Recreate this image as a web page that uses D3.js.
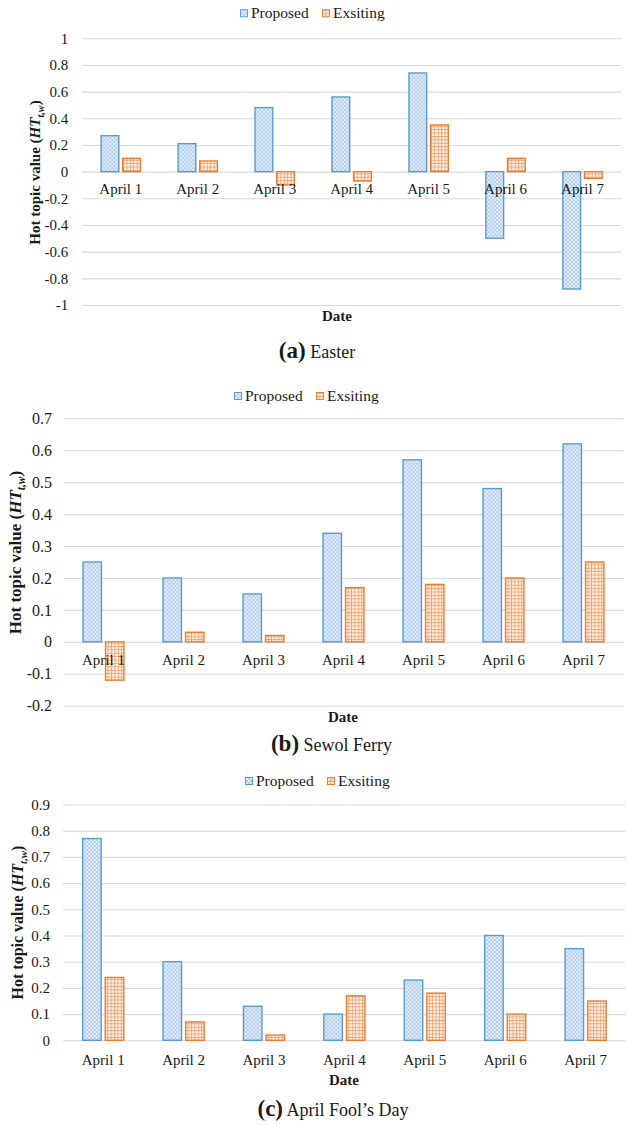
<!DOCTYPE html>
<html>
<head>
<meta charset="utf-8">
<script src="https://cdn.jsdelivr.net/npm/d3@7"></script>
<style>
  body { margin: 0; background: #fff; font-family: "Liberation Serif", "Times New Roman", serif; }
  svg { display: block; }
</style>
</head>
<body>
<svg id="fig" width="627" height="1126" font-family="Liberation Serif, Times New Roman, serif"></svg>
<script>
// ---- data ----
const dates = ["April 1", "April 2", "April 3", "April 4", "April 5", "April 6", "April 7"];
const seriesNames = ["Proposed", "Exsiting"];

const easterProposed = [0.27, 0.21, 0.48, 0.56, 0.74, -0.50, -0.88];
const easterExisting = [0.10, 0.08, -0.10, -0.07, 0.35, 0.10, -0.05];

const sewolProposed = [0.25, 0.20, 0.15, 0.34, 0.57, 0.48, 0.62];
const sewolExisting = [-0.12, 0.03, 0.02, 0.17, 0.18, 0.20, 0.25];

const foolsProposed = [0.77, 0.30, 0.13, 0.10, 0.23, 0.40, 0.35];
const foolsExisting = [0.24, 0.07, 0.02, 0.17, 0.18, 0.10, 0.15];

const easterTicks = [-1, -0.8, -0.6, -0.4, -0.2, 0, 0.2, 0.4, 0.6, 0.8, 1];
const sewolTicks = [-0.2, -0.1, 0, 0.1, 0.2, 0.3, 0.4, 0.5, 0.6, 0.7];
const foolsTicks = [0, 0.1, 0.2, 0.3, 0.4, 0.5, 0.6, 0.7, 0.8, 0.9];

const captions = [
  { letter: "(a)", name: "Easter" },
  { letter: "(b)", name: "Sewol Ferry" },
  { letter: "(c)", name: "April Fool\u2019s Day" }
];

// ---- layout of the three stacked panels ----
const panels = [
  { proposed: easterProposed, existing: easterExisting, ticks: easterTicks, caption: captions[0],
    left: 82.3, right: 621, top: 38.3, bottom: 305, tickPad: 14, tickFont: 15, labelOffset: 17.3,
    legendX: 240, legendY: 13.3, titleX: 35, titleY: 172.5, titleFont: 15,
    dateX: 337, dateY: 316, captionX: 317, captionY: 358 },
  { proposed: sewolProposed, existing: sewolExisting, ticks: sewolTicks, caption: captions[1],
    left: 63.5, right: 623.5, top: 418.3, bottom: 705.7, tickPad: 11.5, tickFont: 16, labelOffset: 17.7,
    legendX: 234, legendY: 396, titleX: 15, titleY: 552.5, titleFont: 17,
    dateX: 343, dateY: 716.7, captionX: 331.5, captionY: 751 },
  { proposed: foolsProposed, existing: foolsExisting, ticks: foolsTicks, caption: captions[2],
    left: 63, right: 625.8, top: 804.5, bottom: 1040.3, tickPad: 13, tickFont: 15, labelOffset: 19.7,
    legendX: 245, legendY: 781, titleX: 18, titleY: 922.5, titleFont: 16,
    dateX: 344, dateY: 1080, captionX: 333, captionY: 1116 }
];

const FONT = "Liberation Serif, Times New Roman, serif";
const INK = "#1a1a1a";
const colors = { Proposed: "#5b9bd5", Exsiting: "#ed7d31" };
const fmt = d => (Math.abs(d) < 1e-9 ? "0" : String(+d.toFixed(1)));

const svg = d3.select("#fig");

// ---- fill patterns: blue diamond weave, orange small grid ----
const defs = svg.append("defs");
const pz = defs.append("pattern").attr("id", "pat-Proposed")
  .attr("patternUnits", "userSpaceOnUse").attr("width", 4).attr("height", 4);
pz.append("rect").attr("width", 4).attr("height", 4).attr("fill", "#e0ebf8");
pz.append("path").attr("d", "M0,2 L2,0 L4,2 L2,4 Z")
  .attr("fill", "none").attr("stroke", "#a9c8ea").attr("stroke-width", 0.8);

const pg = defs.append("pattern").attr("id", "pat-Exsiting")
  .attr("patternUnits", "userSpaceOnUse").attr("width", 3.4).attr("height", 3.4);
pg.append("rect").attr("width", 3.4).attr("height", 3.4).attr("fill", "#fdf1e8");
pg.append("path").attr("d", "M0.5,0 V3.4 M0,0.5 H3.4")
  .attr("fill", "none").attr("stroke", "#f1a06b").attr("stroke-width", 0.9);

// every text element gets the serif face directly
function label(sel, size, weight) {
  return sel.attr("font-family", FONT).attr("font-size", size)
    .attr("font-weight", weight || "normal").attr("fill", INK);
}

panels.forEach(p => {
  const g = svg.append("g");
  const y = d3.scaleLinear().domain([p.ticks[0], p.ticks[p.ticks.length - 1]]).range([p.bottom, p.top]);
  const x0 = d3.scaleBand().domain(dates).range([p.left, p.right]).padding(0);
  const x1 = d3.scaleBand().domain(seriesNames).range([0, x0.bandwidth()])
    .paddingInner(0.18).paddingOuter(0.87);

  // value axis: horizontal gridlines with labels, no domain line
  const axis = g.append("g").attr("transform", `translate(${p.left},0)`)
    .call(d3.axisLeft(y).tickValues(p.ticks).tickFormat(fmt)
      .tickSize(-(p.right - p.left)).tickPadding(p.tickPad));
  axis.attr("font-family", FONT).attr("font-size", p.tickFont);
  axis.select(".domain").remove();
  axis.selectAll(".tick line").attr("stroke", "#d9d9d9").attr("stroke-width", 1.1);
  label(axis.selectAll(".tick text"), p.tickFont);

  // grouped bars
  const rows = dates.map((d, i) => ({ date: d, Proposed: p.proposed[i], Exsiting: p.existing[i] }));
  const grp = g.append("g").selectAll("g").data(rows).join("g")
    .attr("transform", d => `translate(${x0(d.date)},0)`);
  grp.selectAll("rect").data(d => seriesNames.map(k => ({ key: k, value: d[k] }))).join("rect")
    .attr("x", d => x1(d.key))
    .attr("width", x1.bandwidth())
    .attr("y", d => Math.min(y(d.value), y(0)))
    .attr("height", d => Math.abs(y(d.value) - y(0)))
    .attr("fill", d => `url(#pat-${d.key})`)
    .attr("stroke", d => colors[d.key])
    .attr("stroke-width", 1.4);

  // category labels sit just under the zero line
  label(g.append("g").selectAll("text").data(dates).join("text"), 15)
    .attr("x", d => x0(d) + x0.bandwidth() / 2)
    .attr("y", y(0) + p.labelOffset + 5)
    .attr("text-anchor", "middle")
    .text(d => d);

  // legend
  const lg = g.append("g").attr("transform", `translate(${p.legendX},${p.legendY})`);
  const legendOffsets = [0, 82];
  seriesNames.forEach((k, i) => {
    const it = lg.append("g").attr("transform", `translate(${legendOffsets[i]},0)`);
    it.append("rect").attr("x", 0.5).attr("y", -3.5).attr("width", 7).attr("height", 7)
      .attr("fill", `url(#pat-${k})`).attr("stroke", colors[k]).attr("stroke-width", 1);
    label(it.append("text"), 15.5).attr("x", 11).attr("y", 5).text(k);
  });

  // value axis title
  const t = label(g.append("text"), p.titleFont, "bold")
    .attr("transform", `translate(${p.titleX + p.titleFont * 0.33},${p.titleY}) rotate(-90)`)
    .attr("text-anchor", "middle");
  t.append("tspan").text("Hot topic value (");
  t.append("tspan").attr("font-style", "italic").text("HT");
  t.append("tspan").attr("font-style", "italic").attr("font-size", p.titleFont * 0.68)
    .attr("dy", p.titleFont * 0.25).text("t,w");
  t.append("tspan").attr("dy", -p.titleFont * 0.25).text(")");

  // category axis title
  label(g.append("text"), 15, "bold").attr("x", p.dateX).attr("y", p.dateY + 5)
    .attr("text-anchor", "middle").text("Date");

  // panel caption
  const c = label(g.append("text"), 18).attr("x", p.captionX).attr("y", p.captionY)
    .attr("text-anchor", "middle");
  c.append("tspan").attr("font-size", 23).attr("font-weight", "bold").text(p.caption.letter);
  c.append("tspan").text(" " + p.caption.name);
});
</script>
</body>
</html>
